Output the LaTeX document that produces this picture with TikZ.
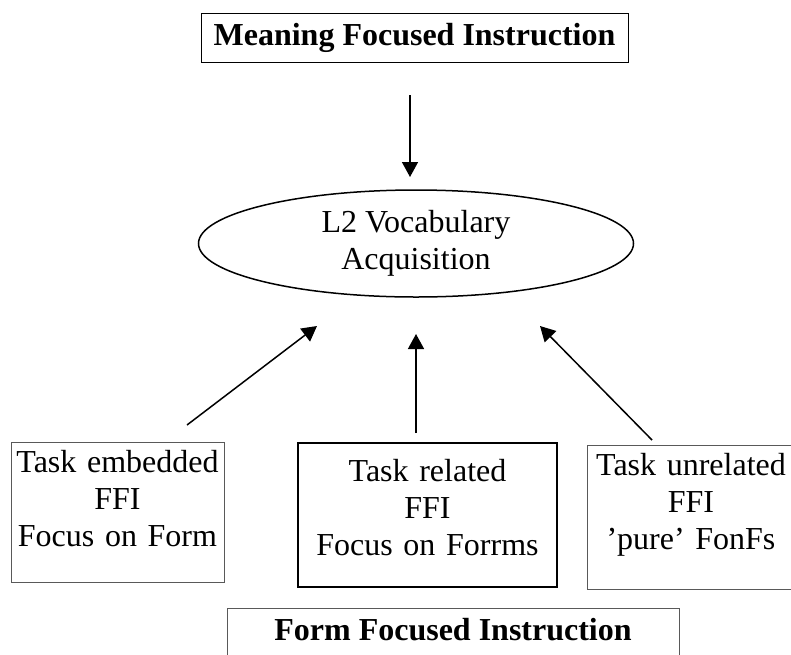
\documentclass[tikz,border=0pt]{standalone}
\usepackage{fontspec}
\setmainfont{Liberation Serif}
\usetikzlibrary{arrows.meta, shapes.geometric, positioning}

\begin{document}
\begin{tikzpicture}[x=1pt, y=-1pt,
    every node/.style={font=\fontsize{32}{37}\selectfont},
    titlebox/.style={draw, line width=1pt, minimum height=49pt, inner sep=0pt,
        text height=22pt, text depth=7pt, font=\fontsize{32}{37}\selectfont\bfseries},
    ffibox/.style={draw=black!65, line width=1pt, inner sep=0pt, align=center, anchor=north},
    flow/.style={-{Triangle[length=15pt, width=16pt]}, line width=1.5pt}]
\useasboundingbox (0,0) rectangle (791,654);

% Meaning focused side
\node[titlebox, minimum width=427pt] (mfi) at (414.5,37.5) {Meaning Focused Instruction};

% Centre
\node[ellipse, draw, line width=1.5pt, minimum width=435pt, minimum height=107pt,
    inner sep=0pt, align=center] (vocab) at (416,243.5) {L2 Vocabulary\\Acquisition};

% Form focused side
\node[ffibox, text width=213pt, text height=30pt, text depth=110pt] (embedded) at (117.5,442)
    {Task embedded\\FFI\\Focus on Form};
\node[ffibox, draw=black, line width=2pt, text width=259pt, text height=38pt, text depth=106pt] (related) at (427.5,442)
    {Task related\\FFI\\Focus on Forrms};
\node[ffibox, text width=208pt, text height=30pt, text depth=114pt] (unrelated) at (691,445)
    {Task unrelated\\FFI\\'pure' FonFs};
\node[titlebox, draw=black!65, minimum width=452pt] (ffi) at (453,632.5) {Form Focused Instruction};

% Arrows
\coordinate (mfitail) at (410,95);
\coordinate (mfihead) at (410,177);
\coordinate (embtail) at (187,425);
\coordinate (embhead) at (317,326);
\coordinate (reltail) at (416,433);
\coordinate (relhead) at (416,334);
\coordinate (unrtail) at (652,440);
\coordinate (unrhead) at (540,326);
\draw[flow] (mfitail) -- (mfihead);
\draw[flow] (embtail) -- (embhead);
\draw[flow] (reltail) -- (relhead);
\draw[flow] (unrtail) -- (unrhead);
\end{tikzpicture}
\end{document}
